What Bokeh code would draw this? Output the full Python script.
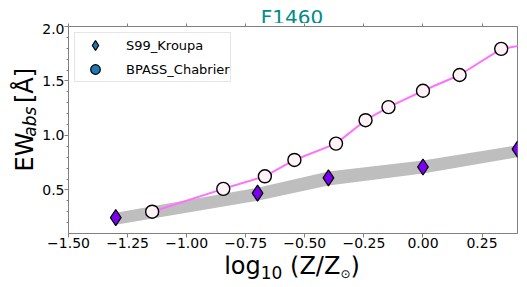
import math
from bokeh.plotting import figure
from bokeh.layouts import column, row
from bokeh.models import (ColumnDataSource, Legend, LegendItem, LinearAxis,
                          SingleIntervalTicker, CustomJSTickFormatter, Range1d)
from bokeh.core.properties import value
from bokeh.embed import file_html
from bokeh.resources import INLINE

# ---- data ----
title_text = "F1460"
s99_label = "S99_Kroupa"
bpass_label = "BPASS_Chabrier"
s99_x = [-1.3, -0.7, -0.4, 0.0, 0.4]
s99_y = [0.245, 0.47, 0.61, 0.71, 0.875]
s99_lo = [0.18, 0.40, 0.54, 0.65, 0.80]
s99_hi = [0.29, 0.52, 0.67, 0.77, 0.91]
bpass_x = [-1.146, -0.845, -0.669, -0.544, -0.368, -0.243, -0.146, 0.0, 0.155, 0.331, 0.456]
bpass_y = [0.30, 0.51, 0.625, 0.775, 0.925, 1.14, 1.26, 1.41, 1.555, 1.795, 1.84]
xmin, xmax = -1.5, 0.4
ymin, ymax = 0.1, 2.0

FONT = "DejaVu Sans"
W = {"E": 0.632, "W": 0.989, "a": 0.613, "b": 0.635, "s": 0.521, " ": 0.318, "[": 0.390,
     "Å": 0.684, "]": 0.390, "l": 0.278, "o": 0.612, "g": 0.635, "1": 0.636, "0": 0.636,
     "(": 0.390, "Z": 0.685, "/": 0.337, "⊙": 0.838, ")": 0.390}
K = 0.3   # baseline correction of the text glyph, fraction of font size

def tw(s, fs):
    return sum(W.get(c, 0.6) for c in s) * fs

TOTAL_W, TOTAL_H = 527, 287
TITLE_H, XLAB_H, YLAB_W = 23, 32, 39
MAIN_W = TOTAL_W - YLAB_W
MAIN_H = TOTAL_H - TITLE_H - XLAB_H
BL, BR, BT, BB = 27, 10, 3, 22          # borders of the main figure
FRAME_CX = YLAB_W + BL + (MAIN_W - BL - BR) / 2
FRAME_CY = TITLE_H + BT + (MAIN_H - BT - BB) / 2

def blank_fig(w, h):
    f = figure(width=w, height=h, x_range=Range1d(0, w), y_range=Range1d(0, h),
               output_backend="svg", toolbar_location=None,
               x_axis_type=None, y_axis_type=None, min_border=0)
    f.outline_line_color = None
    f.background_fill_color = "white"
    f.border_fill_color = "white"
    f.grid.visible = False
    return f

# ---- main figure ----
p = figure(width=MAIN_W, height=MAIN_H, output_backend="svg", toolbar_location=None,
           x_range=Range1d(xmin, xmax), y_range=Range1d(ymin, ymax),
           x_axis_location=None, y_axis_location=None)
p.min_border_left = BL
p.min_border_right = BR
p.min_border_top = BT
p.min_border_bottom = BB
p.grid.visible = False
p.outline_line_color = "#808080"
p.background_fill_color = "white"
p.border_fill_color = "white"

SPINE = "#808080"

def style_axis(ax, standoff, tick=4):
    ax.axis_line_color = SPINE
    ax.major_tick_line_color = SPINE
    ax.minor_tick_line_color = SPINE
    ax.major_tick_in = 0
    ax.major_tick_out = tick
    ax.minor_tick_in = 0
    ax.minor_tick_out = 2
    ax.major_label_text_font = FONT
    ax.major_label_text_font_size = "14px"
    ax.major_label_text_color = "black"
    ax.major_label_standoff = standoff

xb = LinearAxis(ticker=SingleIntervalTicker(interval=0.25, num_minor_ticks=0),
                formatter=CustomJSTickFormatter(code="return (tick < -1e-9 ? '\u2212' : '') + Math.abs(tick).toFixed(2);"))
style_axis(xb, 0)
xb.minor_tick_line_color = None
p.add_layout(xb, "below")

xt = LinearAxis(ticker=SingleIntervalTicker(interval=0.25, num_minor_ticks=0),
                formatter=CustomJSTickFormatter(code="return '';"))
style_axis(xt, 0, tick=3)
xt.minor_tick_line_color = None
p.add_layout(xt, "above")

yl = LinearAxis(ticker=SingleIntervalTicker(interval=0.5, num_minor_ticks=5),
                formatter=CustomJSTickFormatter(code="return (tick < -1e-9 ? '\u2212' : '') + Math.abs(tick).toFixed(1);"))
style_axis(yl, 0)
p.add_layout(yl, "left")

band = ColumnDataSource(dict(x=s99_x, lo=s99_lo, hi=s99_hi))
p.varea(x="x", y1="lo", y2="hi", source=band, fill_color="#bebebe", fill_alpha=1.0)
p.line(bpass_x, bpass_y, line_color="#ff70ff", line_width=2)
p.scatter(bpass_x, bpass_y, marker="circle", size=13, fill_color="#fff3f8",
          line_color="black", line_width=1.4)
p.scatter(s99_x, s99_y, marker="diamond", size=16, fill_color="#7a00f0",
          line_color="black", line_width=1.2)

# legend proxies (not visible in the plot area)
nan = float("nan")
r1 = p.scatter(x=[nan], y=[nan], marker="diamond", size=16, fill_color="#1f77b4",
               line_color="black", line_width=1.2)
r2 = p.scatter(x=[nan], y=[nan], marker="circle", size=12, fill_color="#1f77b4",
               line_color="black", line_width=1.2)
leg = Legend(items=[LegendItem(label=s99_label, renderers=[r1]),
                    LegendItem(label=bpass_label, renderers=[r2])],
             location="top_left")
leg.margin = 6
leg.padding = dict(left=1, right=0, top=0, bottom=0)
leg.spacing = 0
leg.glyph_width = 38
leg.glyph_height = 24
leg.label_height = 24
leg.label_standoff = 12
leg.label_text_font = FONT
leg.label_text_font_size = "13px"
leg.label_text_color = "black"
leg.border_line_color = "#cccccc"
leg.background_fill_alpha = 0.8
p.add_layout(leg)

# ---- title strip ----
tf = blank_fig(TOTAL_W, TITLE_H)
title_fs = 20
tf.text(x=[FRAME_CX], y=[TITLE_H - 22.5 + K * title_fs], text=[title_text], text_align="center",
        text_baseline="alphabetic", text_font=value(FONT), text_font_size=f"{title_fs}px",
        text_color="#008b8b")

# ---- x label strip: log10 (Z/Z_sun) ----
xf = blank_fig(TOTAL_W, XLAB_H)
top_of_strip = TOTAL_H - XLAB_H
fs = 24
# (text, font size, baseline in page pixels)
segs = [("log", fs, 273), ("10", 17, 277), ("(Z/Z", fs, 273), ("⊙", 12, 277), (")", fs, 273)]
gaps = [0, 0, tw(" ", fs), 0, 0]
total = sum(tw(s[0], s[1]) for s in segs) + sum(gaps)
cur = FRAME_CX - total / 2
for (s, f, base), g in zip(segs, gaps):
    cur += g
    yb = XLAB_H - (base - top_of_strip) + K * f
    xf.text(x=[cur], y=[yb], text=[s], text_align="left", text_baseline="alphabetic",
            text_font=value(FONT), text_font_size=f"{f}px", text_color="black")
    cur += tw(s, f)

# ---- y label strip: EW_abs [Å] (rotated) ----
yf = blank_fig(YLAB_W, MAIN_H)
ysegs = [("EW", fs, 32, "normal"), ("abs", 17, 35, "italic"), ("[Å]", fs, 32, "normal")]
ygaps = [0, 0, tw(" ", fs)]
ytotal = sum(tw(s[0], s[1]) for s in ysegs) + sum(ygaps)
cy = TOTAL_H - XLAB_H - FRAME_CY          # frame centre in strip data coords (y up)
cur = cy - ytotal / 2
for (s, f, base, st), g in zip(ysegs, ygaps):
    cur += g
    yf.text(x=[base - K * f], y=[cur], text=[s], angle=math.pi / 2, text_align="left",
            text_baseline="alphabetic", text_font=value(FONT), text_font_style=st,
            text_font_size=f"{f}px", text_color="black")
    cur += tw(s, f)

layout = column(tf, row(yf, p, spacing=0), xf, spacing=0)
open("out.html", "w").write(file_html(layout, INLINE))
